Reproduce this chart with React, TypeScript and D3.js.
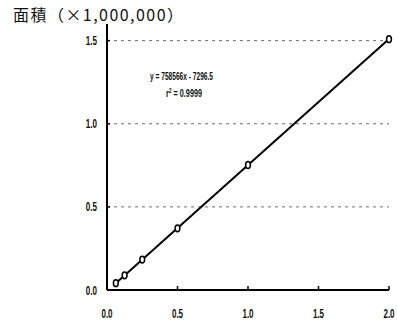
import React from 'react';
import * as d3 from 'd3';

// concentration (x) and peak area in millions (y)
const concentrations = [0.0625, 0.125, 0.25, 0.5, 1.0, 2.0];
const areas = [0.041, 0.088, 0.183, 0.371, 0.752, 1.509];
const xTicks = [0, 0.5, 1.0, 1.5, 2.0];
const yTicks = [0, 0.5, 1.0, 1.5];
const gridTicks = [0.5, 1.0, 1.5];
const slope = 758566;
const intercept = -7296.5;

const W = 397;
const H = 326;
const narrow = '"Liberation Sans", Arial, sans-serif';

// condensed bold label, squeezed horizontally like the scanned original
function Label({ x, y, anchor, children }: { x: number; y: number; anchor: string; children: React.ReactNode }) {
  return (
    <g transform={`translate(${x},${y}) scale(0.62,1)`}>
      <text dy="0.35em" textAnchor={anchor} fontSize={13} fontWeight="bold" fontFamily={narrow} fill="#111">
        {children}
      </text>
    </g>
  );
}

export default function App() {
  const x = d3.scaleLinear().domain([0, 2]).range([107, 389]);
  const y = d3.scaleLinear().domain([0, 1.6]).range([290, 24]);

  const fit = (v: number) => (slope * v + intercept) / 1e6;
  const line = d3.line<number>().x(d => x(d)).y(d => y(fit(d)));
  const lineX = [concentrations[0], concentrations[concentrations.length - 1]];

  return (
    <svg width={W} height={H} style={{ position: 'absolute', left: 0, top: 0, background: '#fff' }}>
      <text x={13} y={21} fontSize={16} fontFamily='"Noto Sans CJK JP", sans-serif' fill="#111"
        textLength={170} lengthAdjust="spacing">
        面積（×1,000,000）
      </text>

      {/* grid */}
      {gridTicks.map(t => (
        <line key={'g' + t} x1={x(0)} x2={x(2)} y1={y(t)} y2={y(t)}
          stroke="#444" strokeWidth={0.8} strokeDasharray="3,4" />
      ))}

      {/* axes */}
      <line x1={x(0)} x2={x(0)} y1={y(1.6)} y2={y(0)} stroke="#000" strokeWidth={2} />
      <line x1={x(0)} x2={x(2)} y1={y(0)} y2={y(0)} stroke="#000" strokeWidth={2} />

      {yTicks.map(t => (
        <g key={'y' + t}>
          <line x1={x(0)} x2={x(0) + 3} y1={y(t)} y2={y(t)} stroke="#000" strokeWidth={1.5} />
          <Label x={97} y={y(t)} anchor="end">{t.toFixed(1)}</Label>
        </g>
      ))}
      {xTicks.map(t => (
        <g key={'x' + t}>
          <line x1={x(t)} x2={x(t)} y1={y(0)} y2={y(0) - 4} stroke="#000" strokeWidth={1.5} />
          <Label x={x(t)} y={313} anchor="middle">{t.toFixed(1)}</Label>
        </g>
      ))}

      {/* regression line */}
      <path d={line(lineX) || ''} fill="none" stroke="#000" strokeWidth={2} />

      {/* points */}
      {concentrations.map((c, i) => (
        <ellipse key={'p' + i} cx={x(c)} cy={y(areas[i])} rx={2.4} ry={3.4}
          fill="#fff" stroke="#000" strokeWidth={1.5} />
      ))}

      {/* equation */}
      <text x={150} y={80} fontSize={11} fontWeight="bold" fontFamily={narrow} fill="#111"
        textLength={63} lengthAdjust="spacingAndGlyphs">
        y = 758566x - 7296.5
      </text>
      <g transform="translate(166,97) scale(0.66,1)">
        <text x={0} y={0} fontSize={11} fontWeight="bold" fontFamily={narrow} fill="#111">
          r<tspan dy={-4} fontSize={7.5}>2</tspan><tspan dy={4}> = 0.9999</tspan>
        </text>
      </g>
    </svg>
  );
}
